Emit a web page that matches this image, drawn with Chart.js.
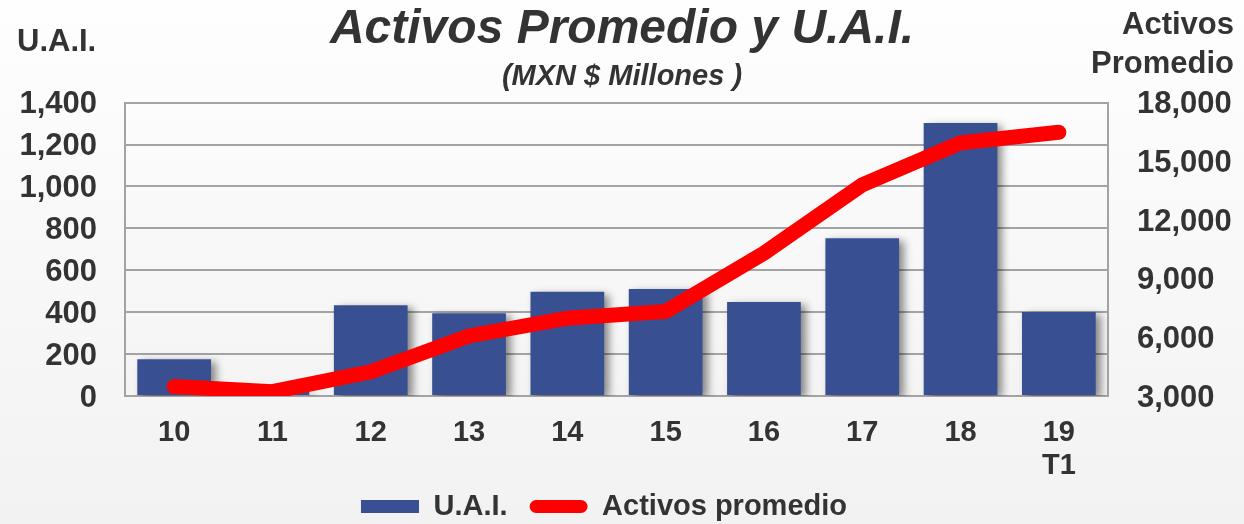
<!DOCTYPE html>
<html>
<head>
<meta charset="utf-8">
<script src="https://cdn.jsdelivr.net/npm/chart.js@4.4.1/dist/chart.umd.min.js"></script>
<style>
  html, body { margin: 0; padding: 0; }
  body { background: linear-gradient(#fefefe, #f2f2f2); width: 1244px; height: 524px; overflow: hidden; }
</style>
</head>
<body>
<canvas id="chart" width="1244" height="524"></canvas>
<script>
// years on the x axis, last one is the first quarter of 2019
const years = ['10', '11', '12', '13', '14', '15', '16', '17', '18', ['19', 'T1']];
const uai = [175, 20, 433, 395, 497, 510, 449, 753, 1303, 401];
const activosPromedio = [3480, 3220, 4240, 6070, 6980, 7320, 10300, 13800, 15940, 16480];
const uaiTicks = [0, 200, 400, 600, 800, 1000, 1200, 1400];
const activosTicks = [3000, 6000, 9000, 12000, 15000, 18000];
const leftTitle = 'U.A.I.';
const rightTitle = ['Activos', 'Promedio'];

const FONT = '"Liberation Sans", Arial, sans-serif';
const TEXT = '#333333';
const GRID = '#a3a3a3';
const BLUE = '#385092';
const RED = '#ff0000';

// soft gradient behind the plot area
const plotBackground = {
    id: 'plotBackground',
    beforeDraw(chart) {
        const {ctx, chartArea: a} = chart;
        const g = ctx.createLinearGradient(0, a.top, 0, a.bottom);
        g.addColorStop(0, '#fcfcfc');
        g.addColorStop(1, '#f4f4f4');
        ctx.save();
        ctx.fillStyle = g;
        ctx.fillRect(a.left, a.top, a.right - a.left, a.bottom - a.top);
        ctx.restore();
    }
};

// drop shadow on the bars only
const barShadow = {
    id: 'barShadow',
    beforeDatasetDraw(chart, args) {
        if (args.meta.type !== 'bar') return;
        const ctx = chart.ctx;
        ctx.save();
        ctx.shadowColor = 'rgba(0, 0, 0, 0.45)';
        ctx.shadowBlur = 8;
        ctx.shadowOffsetX = 5;
        ctx.shadowOffsetY = 3;
    },
    afterDatasetDraw(chart, args) {
        if (args.meta.type !== 'bar') return;
        chart.ctx.restore();
    }
};

// axis captions sit in the top corners
const cornerTitles = {
    id: 'cornerTitles',
    afterDraw(chart) {
        const ctx = chart.ctx;
        ctx.save();
        ctx.fillStyle = TEXT;
        ctx.font = `bold 31px ${FONT}`;
        ctx.textBaseline = 'alphabetic';  // the legend leaves 'middle' behind
        ctx.textAlign = 'left';
        ctx.fillText(leftTitle, 17, 51);
        ctx.textAlign = 'right';
        ctx.fillText(rightTitle[0], chart.width - 10, 34);
        ctx.fillText(rightTitle[1], chart.width - 10, 73);
        ctx.restore();
    }
};

// move the legend a bit left and down, and let the two-line
// year label ("19 / T1") show below the x axis box
const legendNudge = {
    id: 'legendNudge',
    afterLayout(chart) {
        const l = chart.legend;
        l.left -= 18; l.right -= 18;
        l.top += 7; l.bottom += 7;
        chart.scales.x.bottom = l.bottom;
    }
};

const chart = new Chart(document.getElementById('chart'), {
    data: {
        labels: years,
        datasets: [{
            type: 'bar',
            label: 'U.A.I.',
            data: uai,
            yAxisID: 'y',
            backgroundColor: BLUE,
            barPercentage: 0.75,
            categoryPercentage: 1,
            order: 1
        }, {
            type: 'line',
            label: 'Activos promedio',
            data: activosPromedio,
            yAxisID: 'y1',
            borderColor: RED,
            backgroundColor: RED,
            borderWidth: 15,
            borderCapStyle: 'round',
            borderJoinStyle: 'miter',
            pointRadius: 0,
            tension: 0,
            order: 0
        }]
    },
    options: {
        responsive: false,
        animation: false,
        devicePixelRatio: 1,
        locale: 'en-US',
        layout: {padding: 0},
        plugins: {
            title: {
                display: true,
                text: 'Activos Promedio y U.A.I.',
                color: TEXT,
                font: {family: FONT, size: 48, weight: 'bold', style: 'italic', lineHeight: 1.1},
                padding: {top: 3, bottom: 4}
            },
            subtitle: {
                display: true,
                text: '(MXN $ Millones )',
                color: TEXT,
                font: {family: FONT, size: 29, weight: 'bold', style: 'italic'},
                padding: {top: 0, bottom: 8}
            },
            legend: {
                position: 'bottom',
                labels: {
                    color: TEXT,
                    font: {family: FONT, size: 29, weight: 'bold'},
                    boxWidth: 58,
                    boxHeight: 13,
                    padding: 22,
                    generateLabels: (c) => c.data.datasets.map((ds, i) => ({
                        text: ds.label,
                        datasetIndex: i,
                        fillStyle: ds.backgroundColor,
                        strokeStyle: ds.backgroundColor,
                        lineWidth: 0,
                        borderRadius: ds.type === 'line' ? 6.5 : 0,
                        fontColor: TEXT,
                        hidden: false
                    }))
                }
            },
            tooltip: {enabled: false}
        },
        scales: {
            x: {
                grid: {display: false, drawTicks: false},
                border: {display: true, color: GRID, width: 2},
                ticks: {color: TEXT, font: {family: FONT, size: 29, weight: 'bold', lineHeight: 1.15}, padding: 20, maxRotation: 0},
                afterFit(s) { s.height = 67; }
            },
            y: {
                position: 'left',
                min: uaiTicks[0],
                max: uaiTicks[uaiTicks.length - 1],
                grid: {color: GRID, lineWidth: 2, drawTicks: false},
                border: {display: true, color: GRID, width: 2},
                ticks: {stepSize: uaiTicks[1] - uaiTicks[0], color: TEXT, font: {family: FONT, size: 31, weight: 'bold'}, padding: 28, labelOffset: 2},
                afterFit(s) { s.width = 125; }
            },
            y1: {
                position: 'right',
                min: activosTicks[0],
                max: activosTicks[activosTicks.length - 1],
                grid: {drawOnChartArea: false, drawTicks: false},
                border: {display: true, color: GRID, width: 2},
                ticks: {stepSize: activosTicks[1] - activosTicks[0], color: TEXT, font: {family: FONT, size: 31, weight: 'bold'}, padding: 29, labelOffset: 2},
                afterFit(s) { s.width = 136; }
            }
        }
    },
    plugins: [plotBackground, barShadow, cornerTitles, legendNudge]
});
</script>
</body>
</html>
